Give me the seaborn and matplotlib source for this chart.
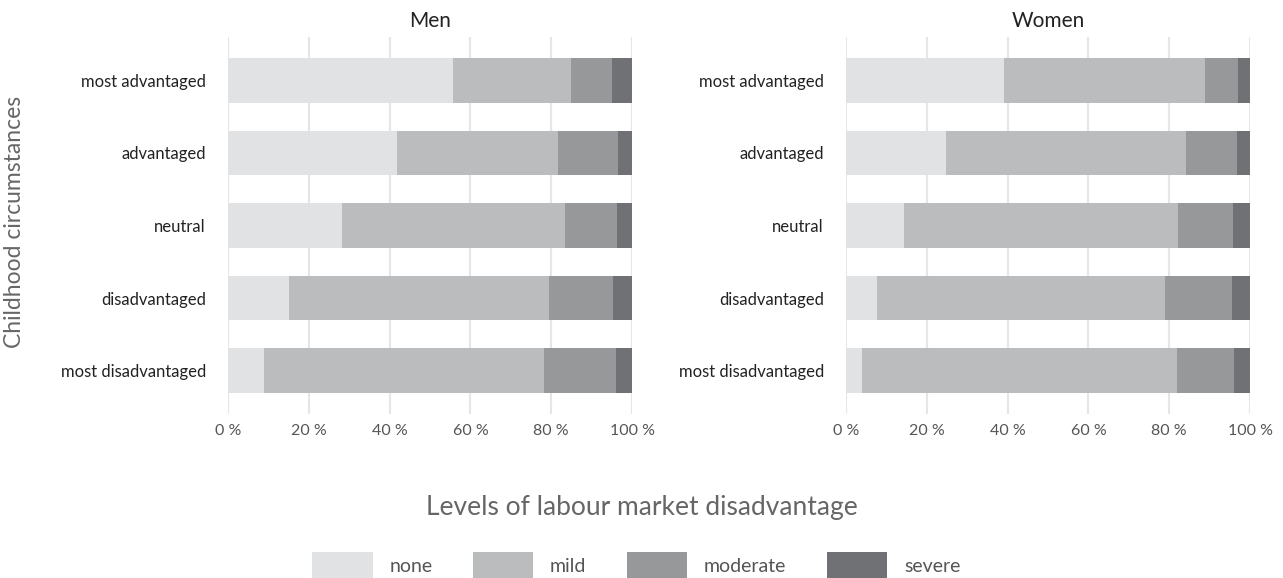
import numpy as np
import pandas as pd
import matplotlib
matplotlib.use("Agg")
import matplotlib.pyplot as plt
import seaborn as sns
from matplotlib.patches import Patch
from matplotlib.ticker import FuncFormatter

#---------data-----------
circumstances = ["most advantaged", "advantaged", "neutral",
                 "disadvantaged", "most disadvantaged"]
levels = ["none", "mild", "moderate", "severe"]
colors = ["#e1e2e4", "#bbbcbe", "#97989a", "#707174"]

men_none = [55.7, 41.9, 28.3, 15.0, 8.9]
men_mild = [29.1, 39.8, 55.0, 64.5, 69.4]
men_moderate = [10.3, 14.8, 13.0, 15.9, 17.7]
men_severe = [4.9, 3.5, 3.7, 4.6, 4.0]

women_none = [39.1, 24.8, 14.4, 7.7, 3.9]
women_mild = [49.8, 59.4, 67.8, 71.3, 78.0]
women_moderate = [8.1, 12.7, 13.5, 16.5, 14.1]
women_severe = [3.0, 3.1, 4.3, 4.5, 4.0]

panels = {
    "Men": [men_none, men_mild, men_moderate, men_severe],
    "Women": [women_none, women_mild, women_moderate, women_severe],
}

#---------style-----------
sns.set_theme(style="white")
plt.rcParams["font.family"] = ["Lato", "DejaVu Sans"]

fig = plt.figure(figsize=(12.83, 5.78), dpi=100)
ax_pos = {"Men": [228 / 1283, 1 - 414 / 578, 404 / 1283, 377 / 578],
          "Women": [846 / 1283, 1 - 414 / 578, 404 / 1283, 377 / 578]}

for name, series in panels.items():
    ax = fig.add_axes(ax_pos[name])
    df = pd.DataFrame({"circumstance": circumstances})
    for lev, vals in zip(levels, series):
        df[lev] = vals
    # cumulative sums, drawn from the back (widest) to the front
    cum = df[levels].cumsum(axis=1)
    for i in range(len(levels) - 1, -1, -1):
        sns.barplot(x=cum[levels[i]], y=df["circumstance"], order=circumstances,
                    color=colors[i], orient="h", width=0.62, ax=ax,
                    saturation=1, linewidth=0)
    ax.set_xlim(0, 100)
    ax.set_ylim(4.6, -0.6)
    ax.set_xticks([0, 20, 40, 60, 80, 100])
    ax.xaxis.set_major_formatter(FuncFormatter(lambda v, p: f"{v:.0f} %"))
    ax.grid(axis="x", color="#e6e6e6", linewidth=1.5)
    ax.set_axisbelow(True)
    for s in ax.spines.values():
        s.set_visible(False)
    ax.tick_params(axis="x", colors="#555555", labelsize=11.5, length=3,
                   width=1, color="#888888", pad=4)
    ax.tick_params(axis="y", labelsize=12, length=0, pad=16, labelcolor="#222222")
    ax.set_xlabel("")
    ax.set_ylabel("")
    ax.set_title(name, fontsize=15, color="#222222", pad=7)

fig.text(15 / 1283, 1 - 222 / 578, "Childhood circumstances", rotation=90, va="center",
         ha="center", fontsize=16.5, color="#666666")
fig.text(0.5, 1 - 507 / 578, "Levels of labour market disadvantage",
         ha="center", va="center", fontsize=19, color="#666666")

handles = [Patch(facecolor=c, edgecolor="none", label=l) for c, l in zip(colors, levels)]
leg = fig.legend(handles=handles, loc="center", bbox_to_anchor=(0.496, 1 - 566 / 578),
                 ncol=4, frameon=False, fontsize=14, handlelength=3.1,
                 handleheight=1.9, handletextpad=0.85, columnspacing=2.1)
for t in leg.get_texts():
    t.set_color("#555555")

plt.savefig("out.png", dpi=100)
